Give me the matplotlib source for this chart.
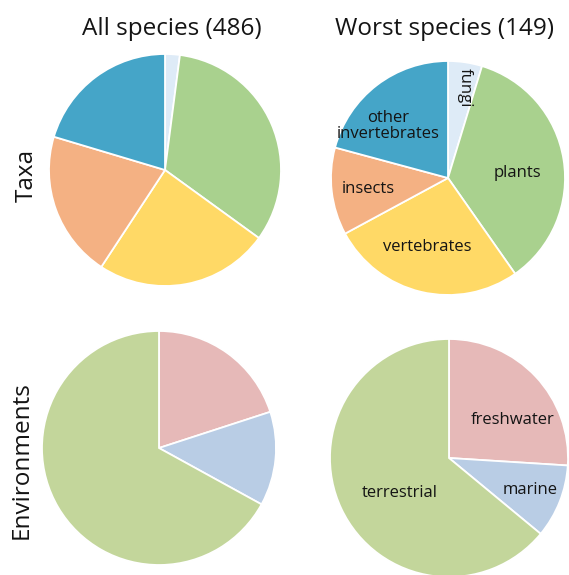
import matplotlib
matplotlib.use("Agg")
import matplotlib.pyplot as plt

W, H = 569, 575

# Data
taxa = ["fungi", "plants", "vertebrates", "insects", "other invertebrates"]
taxa_all = [10, 160, 118, 99, 99]
taxa_worst = [7, 53, 40, 18, 31]
taxa_colors = ["#deebf7", "#a9d18e", "#ffd966", "#f4b183", "#45a5c8"]

envs = ["freshwater", "marine", "terrestrial"]
env_all = [20, 13, 67]
env_worst = [26, 10, 64]
env_colors = ["#e6b9b8", "#b9cde5", "#c3d69b"]

col_titles = ["All species (486)", "Worst species (149)"]
row_titles = ["Taxa", "Environments"]

plt.rcParams['font.family'] = ['Open Sans', 'DejaVu Sans']
fig = plt.figure(figsize=(W / 100, H / 100), dpi=100)
ax = fig.add_axes([0, 0, 1, 1])

def pc(px, py):
    return (px, H - py)

wp = dict(edgecolor="white", linewidth=1.3)
ax.pie(taxa_all, colors=taxa_colors, startangle=90, counterclock=False,
       center=pc(165, 170), radius=116, wedgeprops=wp)
ax.pie(taxa_worst, colors=taxa_colors, startangle=90, counterclock=False,
       center=pc(448, 178), radius=117, wedgeprops=wp)
ax.pie(env_all, colors=env_colors, startangle=90, counterclock=False,
       center=pc(159, 448), radius=117, wedgeprops=wp)
ax.pie(env_worst, colors=env_colors, startangle=90, counterclock=False,
       center=pc(449, 458), radius=119, wedgeprops=wp)

ax.set_xlim(0, W)
ax.set_ylim(0, H)
ax.set_aspect('auto')
ax.axis('off')

tc = "#141414"
tf = 17.5
ax.text(*pc(172, 29), col_titles[0], ha="center", va="center", fontsize=tf, color=tc)
ax.text(*pc(445, 29), col_titles[1], ha="center", va="center", fontsize=tf, color=tc)
ax.text(*pc(27, 175), row_titles[0], ha="center", va="center", fontsize=tf, rotation=90, color=tc)
ax.text(*pc(22, 460), row_titles[1], ha="center", va="center", fontsize=tf, rotation=90, color=tc)

lf = 12
ax.text(*pc(388, 126), "other\ninvertebrates", ha="center", va="center", fontsize=lf,
        color=tc, linespacing=1.0)
ax.text(*pc(465, 88), "fungi", ha="center", va="center", fontsize=lf, rotation=-90, color=tc)
ax.text(*pc(517, 173), "plants", ha="center", va="center", fontsize=lf, color=tc)
ax.text(*pc(368, 189), "insects", ha="center", va="center", fontsize=lf, color=tc)
ax.text(*pc(427, 247), "vertebrates", ha="center", va="center", fontsize=lf, color=tc)
ax.text(*pc(513, 420), "freshwater", ha="center", va="center", fontsize=lf, color=tc)
ax.text(*pc(530, 490), "marine", ha="center", va="center", fontsize=lf, color=tc)
ax.text(*pc(400, 493), "terrestrial", ha="center", va="center", fontsize=lf, color=tc)

fig.savefig("out.png", dpi=100, facecolor="white")
